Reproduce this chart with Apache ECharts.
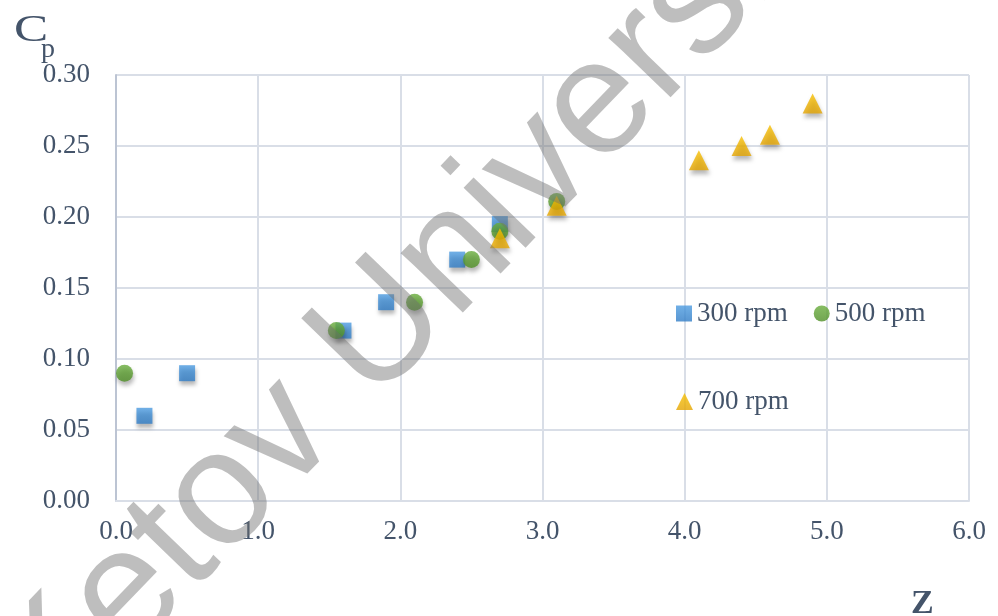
<!DOCTYPE html>
<html>
<head>
<meta charset="utf-8">
<script src="https://cdn.jsdelivr.net/npm/echarts@6/dist/echarts.min.js"></script>
<style>
html,body{margin:0;padding:0;background:#fff;}
#chart{width:998px;height:616px;}
</style>
</head>
<body>
<div id="chart"></div>
<script>
// Data
const seriesNames = ['300 rpm', '500 rpm', '700 rpm'];
const z300 = [0.2, 0.5, 1.6, 1.9, 2.4, 2.7];
const cp300 = [0.06, 0.09, 0.12, 0.14, 0.17, 0.195];
const z500 = [0.06, 1.55, 2.1, 2.5, 2.7, 3.1];
const cp500 = [0.09, 0.12, 0.14, 0.17, 0.19, 0.211];
const z700 = [2.7, 3.1, 4.1, 4.4, 4.6, 4.9];
const cp700 = [0.185, 0.208, 0.24, 0.25, 0.258, 0.28];
const xTicks = ['0.0', '1.0', '2.0', '3.0', '4.0', '5.0', '6.0'];
const yTicks = ['0.00', '0.05', '0.10', '0.15', '0.20', '0.25', '0.30'];
const watermarkText = 'Ketov University';

const pairs = (xs, ys) => xs.map((x, i) => [x, ys[i]]);
const textColor = '#44546a';
const serif = '"Liberation Serif", "Times New Roman", serif';

const chart = echarts.init(document.getElementById('chart'), null, {renderer: 'canvas'});
const shadow = {shadowBlur: 4, shadowOffsetX: 1, shadowOffsetY: 4, shadowColor: 'rgba(0,0,0,0.35)'};

chart.setOption({
  animation: false,
  backgroundColor: '#ffffff',
  grid: {left: 116, right: 29, top: 75, bottom: 115, containLabel: false},
  xAxis: {
    type: 'value', min: 0, max: 6, interval: 1,
    axisLine: {show: true, lineStyle: {color: '#d9dee7', width: 2}},
    axisTick: {show: false},
    splitLine: {show: true, lineStyle: {color: '#d9dee7', width: 2}},
    axisLabel: {color: textColor, fontFamily: serif, fontSize: 27, margin: 17,
      formatter: (v) => xTicks[Math.round(v)]}
  },
  yAxis: {
    type: 'value', min: 0, max: 0.3, interval: 0.05,
    axisLine: {show: true, lineStyle: {color: '#bcc4d3', width: 2}},
    axisTick: {show: false},
    splitLine: {show: true, lineStyle: {color: '#d9dee7', width: 2}},
    axisLabel: {color: textColor, fontFamily: serif, fontSize: 27, margin: 26,
      formatter: (v) => yTicks[Math.round(v / 0.05)]}
  },
  legend: [
    {data: [seriesNames[0], seriesNames[1]], left: 676, top: 300, padding: 0, orient: 'horizontal',
      itemWidth: 16, itemHeight: 16, itemGap: 26,
      textStyle: {color: textColor, fontFamily: serif, fontSize: 27}},
    {data: [seriesNames[2]], left: 676, top: 388, padding: 0, orient: 'horizontal',
      itemWidth: 17, itemHeight: 17,
      textStyle: {color: textColor, fontFamily: serif, fontSize: 27}}
  ],
  series: [
    {name: seriesNames[0], type: 'scatter', symbol: 'rect', symbolSize: 16,
      data: pairs(z300, cp300),
      itemStyle: Object.assign({color: new echarts.graphic.LinearGradient(0,0,0,1,[{offset:0,color:'#4c9be0'},{offset:1,color:'#2f7cc6'}])}, shadow)},
    {name: seriesNames[1], type: 'scatter', symbol: 'circle', symbolSize: 17,
      data: pairs(z500, cp500),
      itemStyle: Object.assign({color: new echarts.graphic.LinearGradient(0,0,0,1,[{offset:0,color:'#69ad3c'},{offset:1,color:'#4f8f26'}])}, shadow)},
    {name: seriesNames[2], type: 'scatter', symbol: 'triangle', symbolSize: [20, 20],
      data: pairs(z700, cp700),
      itemStyle: Object.assign({color: new echarts.graphic.LinearGradient(0,0,0,1,[{offset:0,color:'#f7c000'},{offset:1,color:'#e4a400'}])}, shadow)}
  ],
  graphic: [
    {type: 'text', x: 14, y: 12, scaleX: 1.35, z: 50,
      style: {text: 'C', fill: textColor, font: '38px ' + serif}},
    {type: 'text', x: 41, y: 36, z: 50,
      style: {text: 'p', fill: textColor, font: '28px ' + serif}},
    {type: 'text', x: 911, y: 587, z: 50,
      style: {text: 'Z', fill: textColor, font: 'bold 34px ' + serif}},
    {type: 'text', x: 429, y: 283, rotation: 46 * Math.PI / 180, z: 100,
      style: {text: watermarkText, fill: 'rgba(110,110,110,0.45)',
        font: '163px "Liberation Sans", Arial, sans-serif', align: 'center', verticalAlign: 'middle'}}
  ]
});
</script>
</body>
</html>
